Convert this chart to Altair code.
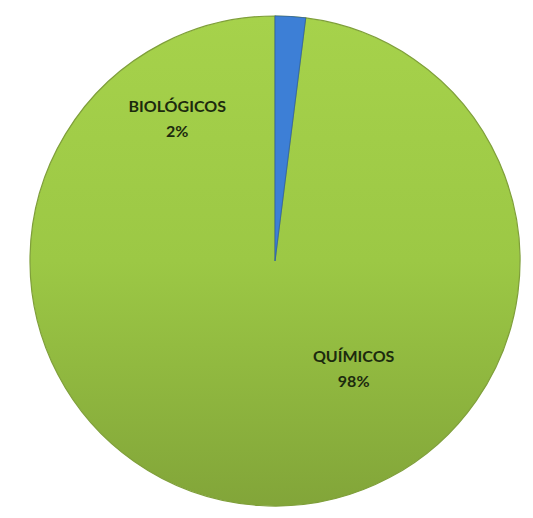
import altair as alt
import pandas as pd

categories = ["BIOLÓGICOS", "QUÍMICOS"]
values = [2, 98]
pct_labels = ["2%", "98%"]
order = [0, 1]

df = pd.DataFrame({
    "cat": categories,
    "value": values,
    "pct": pct_labels,
    "ord": order,
})

base = alt.Chart(df).encode(
    theta=alt.Theta("value:Q", stack=True),
    order=alt.Order("ord:Q"),
)

green = alt.LinearGradient(
    gradient="linear",
    x1=0, y1=0, x2=0, y2=1,
    stops=[
        alt.GradientStop(offset=0, color="#a6d24b"),
        alt.GradientStop(offset=0.5, color="#9cc845"),
        alt.GradientStop(offset=1, color="#82a539"),
    ],
)

pie_green = base.mark_arc(radius=245, color=green, stroke="#7f9f3a", strokeWidth=1.2)

pie_blue = base.mark_arc(radius=245).encode(
    color=alt.Color("cat:N", scale=alt.Scale(domain=categories, range=["#3d7fd6", "#00000000"]), legend=None),
    stroke=alt.value("#2f62a8"),
    strokeWidth=alt.condition(alt.datum.cat == "BIOLÓGICOS", alt.value(0.8), alt.value(0)),
)

def label_layer(cat, radius, offset):
    return base.transform_calculate(
        lbl=f"datum.cat == '{cat}' ? datum.cat + '\\n' + datum.pct : ''"
    ).mark_text(
        radius=radius, thetaOffset=offset, lineBreak="\n", font="Lato", fontSize=16,
        fontWeight="bold", color="#1c2a0e", lineHeight=25, align="center", baseline="middle",
    ).encode(text="lbl:N")

chart = alt.layer(
    pie_green,
    pie_blue,
    label_layer("BIOLÓGICOS", 182, -0.63),
    label_layer("QUÍMICOS", 124, -0.75),
).properties(
    width=516, height=514,
    padding={"left": 17, "top": 4, "right": 0, "bottom": 0},
    autosize=alt.AutoSizeParams(type="none"),
    background="white",
).configure_view(stroke=None)

chart.save("out.html", embed_options={"renderer": "svg", "actions": False})
